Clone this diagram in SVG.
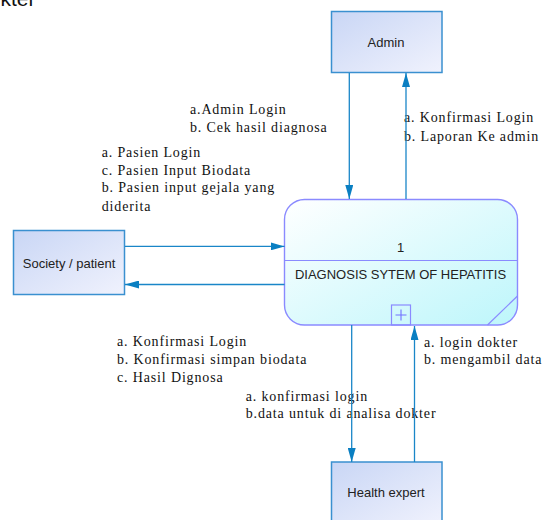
<svg xmlns="http://www.w3.org/2000/svg" width="542" height="520" viewBox="0 0 542 520">
<style>
.ent{stroke:#3a90d0;stroke-width:1.5;fill:url(#gEnt)}
.proc{stroke:#8a8aff;stroke-width:1.4;fill:url(#gProc)}
.pl{stroke:#8a8aff;stroke-width:1.2;fill:none}
.sans{font-family:"Liberation Sans",Arial,sans-serif;font-size:13px;fill:#222}
.lbl{font-family:"Liberation Serif","Times New Roman",serif;font-size:14px;letter-spacing:0.85px;fill:#111}
.con{stroke:#1a86c8;stroke-width:1.3;fill:none}
</style>
<defs>
<linearGradient id="gEnt" x1="0" y1="0" x2="1" y2="1">
<stop offset="0" stop-color="#c9d6f5"/>
<stop offset="1" stop-color="#f0f2fd"/>
</linearGradient>
<linearGradient id="gProc" x1="0" y1="0" x2="1" y2="1">
<stop offset="0" stop-color="#ffffff"/>
<stop offset="1" stop-color="#bdf6fb"/>
</linearGradient>
<marker id="ah" viewBox="0 0 14 8" refX="14" refY="4" markerWidth="14" markerHeight="8" markerUnits="userSpaceOnUse" orient="auto">
<path d="M0,0 L14,4 L0,8 Z" fill="#0a7fc2"/>
</marker>
</defs>
<text x="0.5" y="6" style="font-family:'Liberation Sans',Arial,sans-serif;font-size:21px;fill:#111">kter</text>
<g id="admin">
<rect class="ent" x="331.5" y="11.5" width="110.5" height="61"/>
<text class="sans" x="386" y="46.7" text-anchor="middle">Admin</text>
</g>
<g id="society">
<rect class="ent" x="13.5" y="230.5" width="111" height="64"/>
<text class="sans" x="69" y="268" text-anchor="middle">Society / patient</text>
</g>
<g id="health">
<rect class="ent" x="331.5" y="462" width="110.5" height="62"/>
<text class="sans" x="386" y="497" text-anchor="middle">Health expert</text>
</g>
<g id="process">
<rect class="proc" x="284.5" y="199.5" width="233" height="125.5" rx="20" ry="20"/>
<line class="pl" x1="284.5" y1="260.5" x2="517.5" y2="260.5"/>
<line class="pl" x1="517.5" y1="296" x2="487.5" y2="325"/>
<rect class="pl" x="391.5" y="305" width="19" height="20"/>
<path d="M395.5,315 H406.5 M401,309.5 V320.5" stroke="#7070ff" stroke-width="1.1" fill="none"/>
<text class="sans" x="400.5" y="251.5" text-anchor="middle">1</text>
<text class="sans" x="400.5" y="278.5" text-anchor="middle">DIAGNOSIS SYTEM OF HEPATITIS</text>
</g>
<g id="labels">
<text class="lbl" x="190" y="114">a.Admin Login</text>
<text class="lbl" x="190" y="132">b. Cek hasil diagnosa</text>
<text class="lbl" x="101.7" y="156.7">a. Pasien Login</text>
<text class="lbl" x="101.7" y="174.5">c. Pasien Input Biodata</text>
<text class="lbl" x="101.7" y="192.4">b. Pasien input gejala yang</text>
<text class="lbl" x="101.7" y="210.7">diderita</text>
<text class="lbl" x="404" y="122">a. Konfirmasi Login</text>
<text class="lbl" x="404" y="141">b. Laporan Ke admin</text>
<text class="lbl" x="117" y="345.7">a. Konfirmasi Login</text>
<text class="lbl" x="117" y="363.5">b. Konfirmasi simpan biodata</text>
<text class="lbl" x="117" y="382">c. Hasil Dignosa</text>
<text class="lbl" x="245.7" y="400.7">a. konfirmasi login</text>
<text class="lbl" x="245.7" y="418">b.data untuk di analisa dokter</text>
<text class="lbl" x="424" y="346.7">a. login dokter</text>
<text class="lbl" x="424" y="363.5">b. mengambil data</text>
</g>
<g id="connectors">
<line class="con" x1="349.3" y1="73" x2="349.3" y2="199" marker-end="url(#ah)"/>
<line class="con" x1="406" y1="199" x2="406" y2="73" marker-end="url(#ah)"/>
<line class="con" x1="125" y1="246.4" x2="284.5" y2="246.4" marker-end="url(#ah)"/>
<line class="con" x1="284.5" y1="284.5" x2="125" y2="284.5" marker-end="url(#ah)"/>
<line class="con" x1="351.7" y1="325" x2="351.7" y2="462" marker-end="url(#ah)"/>
<line class="con" x1="414.5" y1="462" x2="414.5" y2="326" marker-end="url(#ah)"/>
</g>
</svg>
